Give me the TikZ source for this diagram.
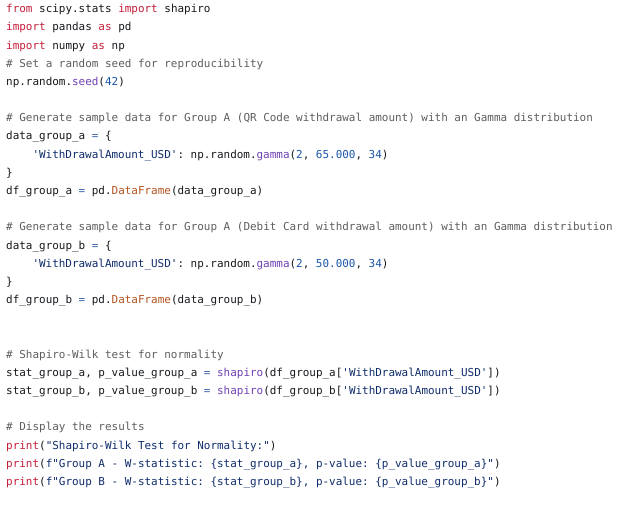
\documentclass[tikz,border=0pt]{standalone}
\usepackage{fontspec}
\setmonofont{DejaVu Sans Mono}
\definecolor{kwc}{HTML}{C51E3A}
\definecolor{cmc}{HTML}{5E5E5E}
\definecolor{stc}{HTML}{0F2C6B}
\definecolor{nmc}{HTML}{1A56A8}
\definecolor{fnc}{HTML}{6F3FB5}
\definecolor{clc}{HTML}{B4531E}
\definecolor{opc}{HTML}{3B63A8}
\definecolor{txc}{HTML}{16191D}
\newcommand{\kw}[1]{\textcolor{kwc}{#1}}
\newcommand{\cm}[1]{\textcolor{cmc}{#1}}
\newcommand{\st}[1]{\textcolor{stc}{#1}}
\newcommand{\nm}[1]{\textcolor{nmc}{#1}}
\newcommand{\fn}[1]{\textcolor{fnc}{#1}}
\newcommand{\cl}[1]{\textcolor{clc}{#1}}
\newcommand{\op}{\textcolor{opc}{=}}
\begin{document}
\begin{tikzpicture}[x=1pt,y=-1pt,
  codeline/.style={anchor=base west,inner sep=0pt,text=txc,
    font=\ttfamily\fontsize{10.95pt}{13pt}\selectfont}]
\useasboundingbox[fill=white] (0,0) rectangle (640,515);
\def\lx{6}
\def\ix{32.3}
\def\ly#1{12.7+18.18*(#1-1)}
\node[codeline] (l1) at (\lx,{\ly{1}}) {\kw{from} scipy.stats \kw{import} shapiro};
\node[codeline] (l2) at (\lx,{\ly{2}}) {\kw{import} pandas \kw{as} pd};
\node[codeline] (l3) at (\lx,{\ly{3}}) {\kw{import} numpy \kw{as} np};
\node[codeline] (l4) at (\lx,{\ly{4}}) {\cm{\# Set a random seed for reproducibility}};
\node[codeline] (l5) at (\lx,{\ly{5}}) {np.random.\fn{seed}(\nm{42})};
\node[codeline] (l7) at (\lx,{\ly{7}}) {\cm{\# Generate sample data for Group A (QR Code withdrawal amount) with an Gamma distribution}};
\node[codeline] (l8) at (\lx,{\ly{8}}) {data\_group\_a \op{} \{};
\node[codeline] (l9) at (\ix,{\ly{9}}) {\st{'WithDrawalAmount\_USD'}: np.random.\fn{gamma}(\nm{2}, \nm{65.000}, \nm{34})};
\node[codeline] (l10) at (\lx,{\ly{10}}) {\}};
\node[codeline] (l11) at (\lx,{\ly{11}}) {df\_group\_a \op{} pd.\cl{DataFrame}(data\_group\_a)};
\node[codeline] (l13) at (\lx,{\ly{13}}) {\cm{\# Generate sample data for Group A (Debit Card withdrawal amount) with an Gamma distribution}};
\node[codeline] (l14) at (\lx,{\ly{14}}) {data\_group\_b \op{} \{};
\node[codeline] (l15) at (\ix,{\ly{15}}) {\st{'WithDrawalAmount\_USD'}: np.random.\fn{gamma}(\nm{2}, \nm{50.000}, \nm{34})};
\node[codeline] (l16) at (\lx,{\ly{16}}) {\}};
\node[codeline] (l17) at (\lx,{\ly{17}}) {df\_group\_b \op{} pd.\cl{DataFrame}(data\_group\_b)};
\node[codeline] (l20) at (\lx,{\ly{20}}) {\cm{\# Shapiro-Wilk test for normality}};
\node[codeline] (l21) at (\lx,{\ly{21}}) {stat\_group\_a, p\_value\_group\_a \op{} \fn{shapiro}(df\_group\_a[\st{'WithDrawalAmount\_USD'}])};
\node[codeline] (l22) at (\lx,{\ly{22}}) {stat\_group\_b, p\_value\_group\_b \op{} \fn{shapiro}(df\_group\_b[\st{'WithDrawalAmount\_USD'}])};
\node[codeline] (l24) at (\lx,{\ly{24}}) {\cm{\# Display the results}};
\node[codeline] (l25) at (\lx,{\ly{25}}) {\kw{print}(\st{"Shapiro-Wilk Test for Normality:"})};
\node[codeline] (l26) at (\lx,{\ly{26}}) {\kw{print}(\st{f"Group A - W-statistic: \{stat\_group\_a\}, p-value: \{p\_value\_group\_a\}"})};
\node[codeline] (l27) at (\lx,{\ly{27}}) {\kw{print}(\st{f"Group B - W-statistic: \{stat\_group\_b\}, p-value: \{p\_value\_group\_b\}"})};
\end{tikzpicture}
\end{document}
